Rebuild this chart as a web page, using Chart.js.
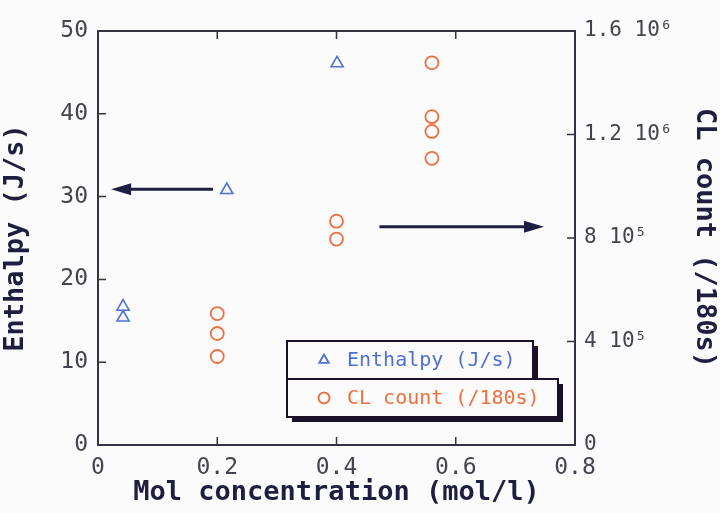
<!DOCTYPE html>
<html>
<head>
<meta charset="utf-8">
<script src="https://cdn.jsdelivr.net/npm/chart.js@4.4.1/dist/chart.umd.min.js"></script>
<style>
  html, body { margin: 0; padding: 0; background: #fbfbfb; }
  #wrap { width: 720px; height: 513px; }
</style>
</head>
<body>
<div id="wrap"><canvas id="chart" width="720" height="513"></canvas></div>
<script>
// concentration (mol/l) -> enthalpy (J/s)
const enthalpyX = [0.042, 0.042, 0.216, 0.401];
const enthalpyY = [16.7, 15.4, 30.8, 46.1];

// concentration (mol/l) -> CL count per 180 s
const clX = [0.2, 0.2, 0.2, 0.4, 0.4, 0.56, 0.56, 0.56, 0.56];
const clY = [508000, 431000, 342000, 865000, 796000, 1477000, 1269000, 1212000, 1108000];

const xTicks = [0, 0.2, 0.4, 0.6, 0.8];
const leftTicks = [0, 10, 20, 30, 40, 50];
const rightTickLabels = { 0: "0", 400000: "4 10\u2075", 800000: "8 10\u2075", 1200000: "1.2 10\u2076", 1600000: "1.6 10\u2076" };

const legendLabels = ["Enthalpy (J/s)", "CL count (/180s)"];

const BLUE = "#5070d4";
const ORANGE = "#ee7040";
const NAVY = "#1e1e40";
const MONO = "'DejaVu Sans Mono', monospace";

const toPoints = (xs, ys) => xs.map((x, i) => ({ x: x, y: ys[i] }));

// inward tick marks on all four sides
const tickMarks = {
  id: "tickMarks",
  afterDraw(chart) {
    const { ctx, chartArea: a, scales } = chart;
    ctx.save();
    ctx.strokeStyle = "#333344";
    ctx.lineWidth = 1.5;
    ctx.beginPath();
    xTicks.slice(1, -1).forEach((v) => {
      const px = scales.x.getPixelForValue(v);
      ctx.moveTo(px, a.bottom); ctx.lineTo(px, a.bottom - 8);
      ctx.moveTo(px, a.top); ctx.lineTo(px, a.top + 8);
    });
    leftTicks.slice(1, -1).forEach((v) => {
      const py = scales.y.getPixelForValue(v);
      ctx.moveTo(a.left, py); ctx.lineTo(a.left + 8, py);
    });
    Object.keys(rightTickLabels).map(Number).slice(1, -1).forEach((v) => {
      const py = scales.y2.getPixelForValue(v);
      ctx.moveTo(a.right, py); ctx.lineTo(a.right - 8, py);
    });
    ctx.stroke();
    ctx.lineWidth = 2;
    ctx.strokeRect(a.left, a.top, a.right - a.left, a.bottom - a.top);
    ctx.restore();
  }
};

// arrows pointing to the axis each series belongs to
function arrow(ctx, x1, y, x2) {
  const dir = Math.sign(x2 - x1);
  ctx.beginPath();
  ctx.moveTo(x1, y);
  ctx.lineTo(x2 - dir * 12, y);
  ctx.stroke();
  ctx.beginPath();
  ctx.moveTo(x2, y);
  ctx.lineTo(x2 - dir * 20, y - 6);
  ctx.lineTo(x2 - dir * 20, y + 6);
  ctx.closePath();
  ctx.fill();
}

const arrows = {
  id: "arrows",
  afterDatasetsDraw(chart) {
    const { ctx, scales } = chart;
    ctx.save();
    ctx.strokeStyle = NAVY;
    ctx.fillStyle = NAVY;
    ctx.lineWidth = 3;
    arrow(ctx, scales.x.getPixelForValue(0.193), scales.y.getPixelForValue(30.9), scales.x.getPixelForValue(0.022));
    arrow(ctx, scales.x.getPixelForValue(0.472), scales.y2.getPixelForValue(843000), scales.x.getPixelForValue(0.748));
    ctx.restore();
  }
};

// boxed legend with drop shadow, as in the original figure
const boxLegend = {
  id: "boxLegend",
  afterDraw(chart) {
    const { ctx } = chart;
    const boxes = [
      { x: 287, y: 341, w: 246, h: 38, color: BLUE, style: "triangle" },
      { x: 287, y: 379, w: 271, h: 38, color: ORANGE, style: "circle" }
    ];
    ctx.save();
    boxes.forEach((b, i) => {
      ctx.fillStyle = "#1a1028";
      ctx.fillRect(b.x + 5, b.y + 5, b.w, b.h);
      ctx.fillStyle = "#fbfbfb";
      ctx.fillRect(b.x, b.y, b.w, b.h);
      ctx.strokeStyle = "#1a1028";
      ctx.lineWidth = 2;
      ctx.strokeRect(b.x, b.y, b.w, b.h);
      const cy = b.y + b.h / 2;
      ctx.strokeStyle = b.color;
      ctx.lineWidth = 1.5;
      Chart.helpers.drawPoint(ctx, { pointStyle: b.style, radius: 5.5, borderWidth: 1.5 }, 324, cy);
      ctx.stroke();
      ctx.fillStyle = b.color;
      ctx.font = "20px " + MONO;
      ctx.textBaseline = "middle";
      ctx.fillText(legendLabels[i], 347, cy + 1);
    });
    ctx.restore();
  }
};

new Chart(document.getElementById("chart"), {
  type: "scatter",
  data: {
    datasets: [
      {
        label: legendLabels[0],
        data: toPoints(enthalpyX, enthalpyY),
        yAxisID: "y",
        pointStyle: "triangle",
        pointRadius: 7,
        borderColor: BLUE,
        backgroundColor: "rgba(0,0,0,0)",
        borderWidth: 1.6
      },
      {
        label: legendLabels[1],
        data: toPoints(clX, clY),
        yAxisID: "y2",
        pointStyle: "circle",
        pointRadius: 6.5,
        borderColor: ORANGE,
        backgroundColor: "rgba(0,0,0,0)",
        borderWidth: 1.8
      }
    ]
  },
  options: {
    responsive: false,
    animation: false,
    devicePixelRatio: 1,
    layout: { padding: { top: 31, left: 0, right: 0, bottom: 0 } },
    plugins: { legend: { display: false }, tooltip: { enabled: false } },
    scales: {
      x: {
        type: "linear",
        min: 0, max: 0.8,
        afterFit: (s) => { s.height = 68; },
        afterBuildTicks: (s) => { s.ticks = xTicks.map((v) => ({ value: v })); },
        grid: { display: false, drawTicks: false },
        border: { display: false },
        ticks: { color: "#444450", padding: 9, font: { family: MONO, size: 23 }, callback: (v) => String(v) },
        title: { display: true, text: "Mol concentration (mol/l)", color: NAVY, padding: { top: 0, bottom: 4 }, font: { family: MONO, size: 27, weight: "bold" } }
      },
      y: {
        type: "linear",
        position: "left",
        min: 0, max: 50,
        afterFit: (s) => { s.width = 98; },
        afterBuildTicks: (s) => { s.ticks = leftTicks.map((v) => ({ value: v })); },
        grid: { display: false, drawTicks: false },
        border: { display: false },
        ticks: { color: "#444450", padding: 10, font: { family: MONO, size: 23 } },
        title: { display: true, text: "Enthalpy (J/s)", color: NAVY, padding: { top: 0, bottom: 0 }, font: { family: MONO, size: 27, weight: "bold" } }
      },
      y2: {
        type: "linear",
        position: "right",
        min: 0, max: 1600000,
        afterFit: (s) => { s.width = 145; },
        afterBuildTicks: (s) => { s.ticks = Object.keys(rightTickLabels).map((v) => ({ value: Number(v) })); },
        grid: { display: false, drawTicks: false },
        border: { display: false },
        ticks: { color: "#444450", padding: 9, font: { family: MONO, size: 21 }, callback: (v) => rightTickLabels[v] },
        title: { display: true, text: "CL count (/180s)", color: NAVY, padding: { top: 0, bottom: 0 }, font: { family: MONO, size: 27, weight: "bold" } }
      }
    }
  },
  plugins: [tickMarks, arrows, boxLegend]
});
</script>
</body>
</html>
